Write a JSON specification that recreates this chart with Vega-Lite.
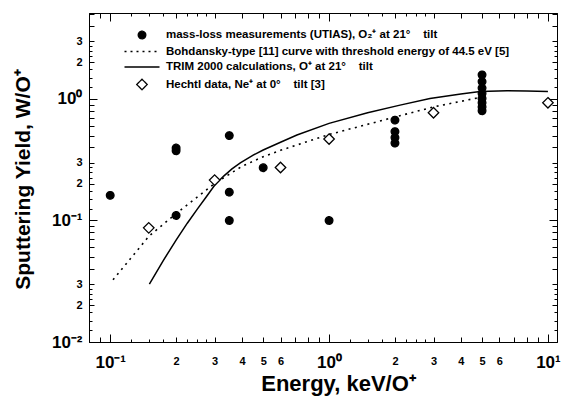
{
  "$schema": "https://vega.github.io/schema/vega-lite/v6.json",
  "width": 468,
  "height": 329,
  "autosize": {"type": "none"},
  "padding": {"left": 89, "top": 13, "right": 6, "bottom": 62},
  "background": "white",
  "config": {
    "view": {"stroke": "black", "strokeWidth": 1},
    "font": "Liberation Sans",
    "axis": {
      "domainColor": "black", "tickColor": "black", "labelColor": "black", "titleColor": "black",
      "grid": false, "labelFont": "Liberation Sans", "labelFontWeight": "bold",
      "titleFont": "Liberation Sans", "titleFontWeight": "bold",
      "labelOverlap": false, "labelFlush": false, "labelBound": false, "tickWidth": 1, "domainWidth": 1
    },
    "legend": {
      "orient": "none", "legendX": 47, "legendY": 16, "padding": 0,
      "labelFont": "Liberation Sans", "labelFontWeight": "bold", "labelFontSize": 11.5, "labelColor": "black",
      "symbolSize": 100, "rowPadding": 3.5, "labelOffset": 18, "labelLimit": 450,
      "symbolStrokeWidth": 1.3
    }
  },
  "data": {"values": [
    {"s": "mass", "E": 0.1, "Y": 0.161},
    {"s": "mass", "E": 0.2, "Y": 0.395},
    {"s": "mass", "E": 0.2, "Y": 0.375},
    {"s": "mass", "E": 0.2, "Y": 0.11},
    {"s": "mass", "E": 0.35, "Y": 0.5},
    {"s": "mass", "E": 0.35, "Y": 0.171},
    {"s": "mass", "E": 0.35, "Y": 0.1},
    {"s": "mass", "E": 0.5, "Y": 0.272},
    {"s": "mass", "E": 1.0, "Y": 0.1},
    {"s": "mass", "E": 2, "Y": 0.67},
    {"s": "mass", "E": 2, "Y": 0.539},
    {"s": "mass", "E": 2, "Y": 0.481},
    {"s": "mass", "E": 2, "Y": 0.433},
    {"s": "mass", "E": 5, "Y": 1.58},
    {"s": "mass", "E": 5, "Y": 1.39},
    {"s": "mass", "E": 5, "Y": 1.23},
    {"s": "mass", "E": 5, "Y": 1.11},
    {"s": "mass", "E": 5, "Y": 1.01},
    {"s": "mass", "E": 5, "Y": 0.93},
    {"s": "mass", "E": 5, "Y": 0.86},
    {"s": "mass", "E": 5, "Y": 0.8},
    {"s": "hechtl", "E": 0.15, "Y": 0.087},
    {"s": "hechtl", "E": 0.3, "Y": 0.215},
    {"s": "hechtl", "E": 0.6, "Y": 0.273},
    {"s": "hechtl", "E": 1.0, "Y": 0.468},
    {"s": "hechtl", "E": 3.0, "Y": 0.77},
    {"s": "hechtl", "E": 10, "Y": 0.93},
    {"s": "bohd", "E": 0.103, "Y": 0.0325},
    {"s": "bohd", "E": 0.15, "Y": 0.074},
    {"s": "bohd", "E": 0.2, "Y": 0.114},
    {"s": "bohd", "E": 0.3, "Y": 0.202},
    {"s": "bohd", "E": 0.4, "Y": 0.279},
    {"s": "bohd", "E": 0.5, "Y": 0.335},
    {"s": "bohd", "E": 0.6, "Y": 0.378},
    {"s": "bohd", "E": 1.0, "Y": 0.51},
    {"s": "bohd", "E": 2.0, "Y": 0.71},
    {"s": "bohd", "E": 3.0, "Y": 0.86},
    {"s": "bohd", "E": 4.9, "Y": 1.03},
    {"s": "trim", "E": 0.151, "Y": 0.03},
    {"s": "trim", "E": 0.175, "Y": 0.047},
    {"s": "trim", "E": 0.2, "Y": 0.069},
    {"s": "trim", "E": 0.225, "Y": 0.095},
    {"s": "trim", "E": 0.25, "Y": 0.124},
    {"s": "trim", "E": 0.275, "Y": 0.157},
    {"s": "trim", "E": 0.3, "Y": 0.195},
    {"s": "trim", "E": 0.33, "Y": 0.232},
    {"s": "trim", "E": 0.36, "Y": 0.266},
    {"s": "trim", "E": 0.393, "Y": 0.298},
    {"s": "trim", "E": 0.45, "Y": 0.345},
    {"s": "trim", "E": 0.5, "Y": 0.38},
    {"s": "trim", "E": 0.6, "Y": 0.44},
    {"s": "trim", "E": 0.713, "Y": 0.505},
    {"s": "trim", "E": 1.0, "Y": 0.63},
    {"s": "trim", "E": 1.5, "Y": 0.77},
    {"s": "trim", "E": 2.11, "Y": 0.89},
    {"s": "trim", "E": 2.89, "Y": 1.01},
    {"s": "trim", "E": 4.0, "Y": 1.1},
    {"s": "trim", "E": 4.9, "Y": 1.15},
    {"s": "trim", "E": 6.5, "Y": 1.17},
    {"s": "trim", "E": 8.0, "Y": 1.165},
    {"s": "trim", "E": 10, "Y": 1.15}
  ]},
  "layer": [
    {
      "transform": [{"filter": "datum.s === 'bohd'"}],
      "mark": {"type": "line", "color": "black", "strokeWidth": 1.6, "strokeDash": [2, 4.5]},
      "encoding": {
        "x": {
          "field": "E", "type": "quantitative",
          "scale": {"type": "log", "domain": [0.08, 11], "nice": false},
          "axis": {
            "orient": "bottom", "title": "Energy, keV/O⁺", "titleFontSize": 22,
            "titleX": 249, "titleY": 41, "titleBaseline": "middle", "titleAlign": "center",
            "values": [0.09,0.1,0.125,0.15,0.175,0.2,0.225,0.25,0.275,0.3,0.4,0.5,0.6,0.7,0.8,0.9,1,1.25,1.5,1.75,2,2.25,2.5,2.75,3,4,5,6,7,8,9,10],
            "labelExpr": "datum.value==0.1?'10⁻¹':datum.value==1?'10⁰':datum.value==10?'10¹':(indexof([0.2,0.3,0.4,0.5,0.6,2,3,4,5,6],datum.value)>=0?(''+round(datum.value/pow(10,floor(log(datum.value)/LN10+1e-9)))):'')",
            "labelFontSize": {"condition": {"test": "datum.value==0.1||datum.value==1||datum.value==10", "value": 17}, "value": 11},
            "labelBaseline": "middle",
            "labelPadding": {"condition": {"test": "datum.value==0.1||datum.value==1||datum.value==10", "value": 28}, "value": 24},
            "tickSize": {"condition": [{"test": "datum.value==0.1||datum.value==1||datum.value==10", "value": -8}, {"test": "abs(datum.value/pow(10,floor(log(datum.value)/LN10+1e-9))-round(datum.value/pow(10,floor(log(datum.value)/LN10+1e-9))))<1e-6", "value": -5}], "value": -3}
          }
        },
        "y": {
          "field": "Y", "type": "quantitative",
          "scale": {"type": "log", "domain": [0.01, 5.1], "nice": false},
          "axis": {
            "orient": "left", "title": "Sputtering Yield, W/O⁺", "titleFontSize": 21,
            "titleX": -66, "titleY": 166, "titleAngle": -90, "titleBaseline": "middle", "titleAlign": "center",
            "values": [0.01,0.0125,0.015,0.0175,0.02,0.0225,0.025,0.0275,0.03,0.04,0.05,0.06,0.07,0.08,0.09,0.1,0.125,0.15,0.175,0.2,0.225,0.25,0.275,0.3,0.4,0.5,0.6,0.7,0.8,0.9,1,1.25,1.5,1.75,2,2.25,2.5,2.75,3,4,5],
            "labelExpr": "datum.value==0.01?'10⁻²':datum.value==0.1?'10⁻¹':datum.value==1?'10⁰':(indexof([0.02,0.03,0.2,0.3,2,3],datum.value)>=0?(''+round(datum.value/pow(10,floor(log(datum.value)/LN10+1e-9)))):'')",
            "labelFontSize": {"condition": {"test": "datum.value==0.01||datum.value==0.1||datum.value==1", "value": 17}, "value": 11},
            "labelBaseline": "middle", "labelAlign": "right",
            "labelPadding": {"condition": {"test": "datum.value==0.01||datum.value==0.1||datum.value==1", "value": 15}, "value": 12},
            "tickSize": {"condition": [{"test": "datum.value==0.01||datum.value==0.1||datum.value==1", "value": -8}, {"test": "abs(datum.value/pow(10,floor(log(datum.value)/LN10+1e-9))-round(datum.value/pow(10,floor(log(datum.value)/LN10+1e-9))))<1e-6", "value": -5}], "value": -3}
          }
        }
      }
    },
    {
      "transform": [{"filter": "datum.s === 'trim'"}],
      "mark": {"type": "line", "color": "black", "strokeWidth": 1.5},
      "encoding": {
        "x": {
          "field": "E", "type": "quantitative",
          "scale": {"type": "log", "domain": [0.08, 11], "nice": false},
          "axis": {
            "orient": "top", "title": null, "labels": false,
            "values": [0.09,0.1,0.125,0.15,0.175,0.2,0.225,0.25,0.275,0.3,0.4,0.5,0.6,0.7,0.8,0.9,1,1.25,1.5,1.75,2,2.25,2.5,2.75,3,4,5,6,7,8,9,10],
            "tickSize": {"condition": [{"test": "datum.value==0.1||datum.value==1||datum.value==10", "value": -8}, {"test": "abs(datum.value/pow(10,floor(log(datum.value)/LN10+1e-9))-round(datum.value/pow(10,floor(log(datum.value)/LN10+1e-9))))<1e-6", "value": -5}], "value": -3}
          }
        },
        "y": {
          "field": "Y", "type": "quantitative",
          "scale": {"type": "log", "domain": [0.01, 5.1], "nice": false},
          "axis": {
            "orient": "right", "title": null, "labels": false,
            "values": [0.0125,0.015,0.0175,0.02,0.0225,0.025,0.0275,0.03,0.04,0.05,0.06,0.07,0.08,0.09,0.1,0.125,0.15,0.175,0.2,0.225,0.25,0.275,0.3,0.4,0.5,0.6,0.7,0.8,0.9,1,1.25,1.5,1.75,2,2.25,2.5,2.75,3,4,5],
            "tickSize": {"condition": [{"test": "datum.value==0.01||datum.value==0.1||datum.value==1", "value": -8}, {"test": "abs(datum.value/pow(10,floor(log(datum.value)/LN10+1e-9))-round(datum.value/pow(10,floor(log(datum.value)/LN10+1e-9))))<1e-6", "value": -5}], "value": -3}
          }
        }
      }
    },
    {
      "transform": [{"filter": "datum.s === 'hechtl'"}],
      "mark": {"type": "point", "shape": "M0,-1.05L1.05,0L0,1.05L-1.05,0Z", "filled": true, "fill": "white", "stroke": "black", "strokeWidth": 1.3, "size": 100, "opacity": 1},
      "encoding": {
        "x": {"field": "E", "type": "quantitative", "scale": {"type": "log", "domain": [0.08, 11], "nice": false}, "axis": null},
        "y": {"field": "Y", "type": "quantitative", "scale": {"type": "log", "domain": [0.01, 5.1], "nice": false}, "axis": null}
      }
    },
    {
      "transform": [{"filter": "datum.s === 'mass'"}],
      "mark": {"type": "point", "filled": true, "strokeWidth": 1.3, "size": 100, "opacity": 1},
      "encoding": {
        "x": {"field": "E", "type": "quantitative", "scale": {"type": "log", "domain": [0.08, 11], "nice": false}, "axis": null},
        "y": {"field": "Y", "type": "quantitative", "scale": {"type": "log", "domain": [0.01, 5.1], "nice": false}, "axis": null},
        "shape": {
          "field": "s", "type": "nominal",
          "scale": {
            "domain": ["mass", "bohd", "trim", "hechtl"],
            "range": ["M-0.76,0A0.76,0.76,0,1,0,0.76,0A0.76,0.76,0,1,0,-0.76,0Z", "M-3.5,0L3.5,0", "M-3.5,0L3.5,0", "M0,-1.05L1.05,0L0,1.05L-1.05,0Z"]
          },
          "legend": {
            "title": null,
            "labelExpr": "datum.value==='mass'?'mass-loss measurements (UTIAS), O₂⁺ at 21°\u00a0\u00a0\u00a0 tilt':datum.value==='bohd'?'Bohdansky-type [11] curve with threshold energy of 44.5 eV [5]':datum.value==='trim'?'TRIM 2000 calculations, O⁺ at 21°\u00a0\u00a0\u00a0 tilt':'Hechtl data, Ne⁺ at 0°\u00a0\u00a0\u00a0 tilt [3]'"
          }
        },
        "fill": {
          "field": "s", "type": "nominal",
          "scale": {"domain": ["mass", "bohd", "trim", "hechtl"], "range": ["black", "transparent", "transparent", "white"]},
          "legend": {
            "title": null,
            "labelExpr": "datum.value==='mass'?'mass-loss measurements (UTIAS), O₂⁺ at 21°\u00a0\u00a0\u00a0 tilt':datum.value==='bohd'?'Bohdansky-type [11] curve with threshold energy of 44.5 eV [5]':datum.value==='trim'?'TRIM 2000 calculations, O⁺ at 21°\u00a0\u00a0\u00a0 tilt':'Hechtl data, Ne⁺ at 0°\u00a0\u00a0\u00a0 tilt [3]'"
          }
        },
        "stroke": {
          "field": "s", "type": "nominal",
          "scale": {"domain": ["mass", "bohd", "trim", "hechtl"], "range": ["black", "black", "black", "black"]},
          "legend": {
            "title": null,
            "labelExpr": "datum.value==='mass'?'mass-loss measurements (UTIAS), O₂⁺ at 21°\u00a0\u00a0\u00a0 tilt':datum.value==='bohd'?'Bohdansky-type [11] curve with threshold energy of 44.5 eV [5]':datum.value==='trim'?'TRIM 2000 calculations, O⁺ at 21°\u00a0\u00a0\u00a0 tilt':'Hechtl data, Ne⁺ at 0°\u00a0\u00a0\u00a0 tilt [3]'"
          }
        },
        "strokeDash": {
          "field": "s", "type": "nominal",
          "scale": {"domain": ["mass", "bohd", "trim", "hechtl"], "range": [[1, 0], [2, 4], [1, 0], [1, 0]]},
          "legend": {
            "title": null,
            "labelExpr": "datum.value==='mass'?'mass-loss measurements (UTIAS), O₂⁺ at 21°\u00a0\u00a0\u00a0 tilt':datum.value==='bohd'?'Bohdansky-type [11] curve with threshold energy of 44.5 eV [5]':datum.value==='trim'?'TRIM 2000 calculations, O⁺ at 21°\u00a0\u00a0\u00a0 tilt':'Hechtl data, Ne⁺ at 0°\u00a0\u00a0\u00a0 tilt [3]'"
          }
        }
      }
    }
  ],
  "resolve": {"axis": {"x": "independent", "y": "independent"}}
}
